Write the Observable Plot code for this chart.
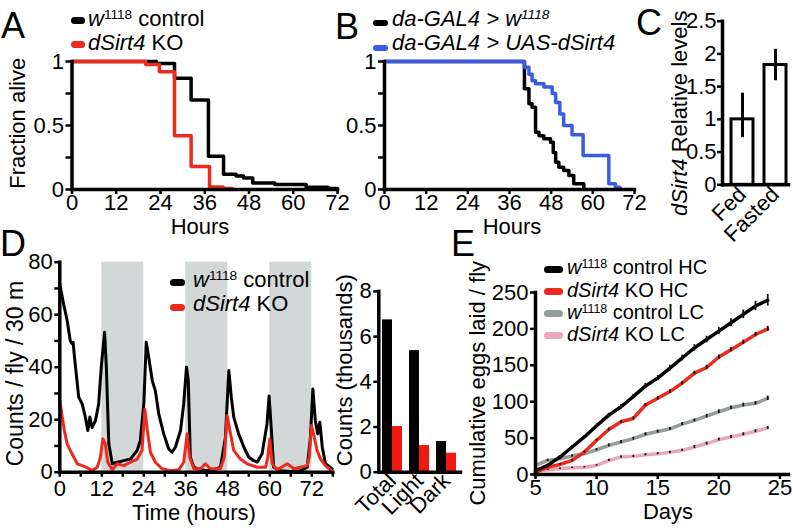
<!DOCTYPE html>
<html><head><meta charset="utf-8">
<script src="https://cdn.jsdelivr.net/npm/d3@7"></script>
<script src="https://cdn.jsdelivr.net/npm/@observablehq/plot@0.6"></script>
<style>
body{margin:0;background:#fff;}
#root{position:relative;width:793px;height:530px;overflow:hidden;background:#fff;font-family:"Liberation Sans",Arial,Helvetica,sans-serif;color:#000;}
#root svg{position:absolute;overflow:visible;background:transparent;}
.t{position:absolute;white-space:nowrap;}
.sw{position:absolute;border-radius:4px;}
sup{font-size:0.62em;line-height:0;vertical-align:0.5em;}
</style></head><body><div id="root"></div><script>
// ---------- DATA ----------
// Panel A (survival under starvation)
const aCtrlHours = [0, 22.9, 27.8, 32.3, 37, 41.1, 44.5, 46.5, 49, 55, 63.5, 69.5, 72];
const aCtrlFrac  = [1, 0.985, 0.87, 0.70, 0.26, 0.12, 0.105, 0.09, 0.05, 0.04, 0.018, 0.008, 0.008];
const aKoHours   = [0, 20, 23.7, 27.8, 32.3, 37.3, 41, 43.4];
const aKoFrac    = [1, 0.976, 0.92, 0.42, 0.18, 0.02, 0.008, 0.008];
const aLegend    = ["<i>w</i><sup>1118</sup> control", "<i>dSirt4</i> KO"];
// Panel B
const bCtrlHours = [0, 40.3, 41.6, 42.5, 43.5, 44.5, 45.9, 47.8, 48.6, 49.3, 50.2, 51.6, 53.1, 54.5, 57.4];
const bCtrlFrac  = [1, 0.787, 0.67, 0.643, 0.448, 0.42, 0.396, 0.37, 0.29, 0.213, 0.174, 0.148, 0.11, 0.045, 0];
const bUasHours  = [0, 40.3, 41.6, 42.5, 43.5, 45.9, 48.3, 49.3, 50.5, 51.6, 54, 57.2, 64.6, 66.5, 67.8];
const bUasFrac   = [1, 0.955, 0.90, 0.85, 0.826, 0.80, 0.75, 0.68, 0.59, 0.50, 0.427, 0.266, 0.045, 0.018, 0];
const bLegend    = ["<i>da-GAL4 &gt; w<sup>1118</sup></i>", "<i>da-GAL4 &gt; UAS-dSirt4</i>"];
// Panel C
const cConds = ["Fed", "Fasted"];
const cMean  = [1.0, 1.83];
const cLo    = [0.72, 1.59];
const cHi    = [1.40, 2.07];
// Panel D (activity)
const dCtrlH = [0,1.1,2.1,3,3.5,3.8,4.2,4.5,5.4,6.4,7.3,8,8.6,9.2,10.2,11.1,11.9,12.8,13.3,14,15,16.4,18.3,20.2,22.1,23,24,24.7,25.4,26.4,27.3,28.3,29.7,31.1,32.1,33,34.5,35.4,36.2,36.7,37.3,38.3,40.2,42.1,44,45.9,47.3,48.3,49,49.7,51.1,52.6,54,55.4,56.4,57.8,59.2,59.8,60.4,61.1,63,65.9,68.8,70.7,71.6,72.3,73,73.7,74.3,75,75.9,77.8];
const dCtrlV = [71.7,64,57.8,50,49,49.5,43.8,40,28.6,26,21,15.9,21,17,19.7,26,41,53.3,40,10.8,3.2,3.8,4.4,5,8.3,12,26,49.5,43.8,35,31,22,14.6,8.9,7.6,9.5,15.9,26,40,35,5.7,1.9,0.9,0.6,1,1.9,13,38.7,28.6,21,14.6,9.5,5.7,4.4,3.8,7,18.4,29,17,1.9,0.6,0.3,0.6,1.9,13,31.7,19.7,14.6,19,9.5,3.2,1.3];
const dKoH = [0,0.7,1.3,2.1,3,4,5,6.4,7.8,9.2,10.7,11.6,12.3,13,13.7,15,16.4,18.3,20.2,22.1,23.5,24.3,25,25.9,27.3,29.2,31.6,34,35.4,36.4,37.1,38.3,40.2,41.6,43,45.9,47,47.8,48.6,49.7,51.6,53.5,56.4,58.8,59.4,60,60.7,62.1,65,66.9,68.8,70.7,71.3,71.9,72.6,73.5,74.5,75.9,77.3];
const dKoV = [27.3,21,15.9,10.8,8.3,5.7,3.2,2.5,1.7,0.6,1.9,5.7,12.7,10.8,3.8,0.9,3.2,2.5,3.8,5,8.3,24,15.9,7.6,3.8,1.3,0.6,0.9,3.8,14.6,5.7,1.3,1.3,3.2,1.3,1.3,5.7,21.6,15.9,8.3,5,3.2,1.9,1.9,5.7,12.7,3.2,0.9,3.2,1.3,1.9,2.5,5.7,17.8,14,8.3,5,2.5,0.9];
const dDarkStart = [12, 36, 60];
const dDarkEnd   = [24, 48, 72];
const dLegend = ["<i>w</i><sup>1118</sup> control", "<i>dSirt4</i> KO"];
const dBarCats = ["Total", "Light", "Dark"];
const dBarCtrl = [6.74, 5.38, 1.36];
const dBarKo   = [2.02, 1.18, 0.84];
// Panel E (eggs)
const eDays   = [5,6,7,8,9,10,11,12,13,14,15,16,17,18,19,20,21,22,23,24];
const eCtrlHC = [5.5,12.5,24,37.8,51.6,66.9,81.6,93.1,107,121.7,132.4,146.2,160,173.9,185.4,196.9,208.5,220,231.5,239.4];
const eKoHC   = [3,10,13.8,19.4,30.9,47,61.8,72.4,77,95.5,104.7,113.9,125.5,139.3,147,161.4,171.5,181.7,192.3,200];
const eCtrlLC = [12.5,19.4,21.7,25.3,28.6,34,40,44.7,49.3,55.3,59,62.7,69.2,74.3,80.2,86.2,91.7,95.5,97.8,104.7];
const eKoLC   = [4,6.5,7.8,9.2,10.1,12.5,19.4,24,24.9,27.2,28.6,30.4,33.2,37.8,42.5,48,51.6,55.3,59.5,64];
const eCtrlHCErr = [1,1.5,1.5,2,2,2.5,2.5,3,3,3.5,3.5,4,4,4.5,4.5,5,5.5,6,6.5,8];
const eKoHCErr   = [1,1,1,1.5,1.5,1.5,2,2,2,2,2.5,2.5,2.5,2.5,3,3,3,3,3,3.5];
const eCtrlLCErr = [1.5,1.5,1.5,1.5,1.5,1.5,2,2,2,2,2,2,2,2,2.5,2.5,2.5,2.5,2.5,3];
const eKoLCErr   = [1,1,1,1,1,1,1.5,1.5,1.5,1.5,1.5,1.5,1.5,2,2,2,2,2,2,2];
const eLegend = ["<i>w</i><sup>1118</sup> control HC", "<i>dSirt4</i> KO HC", "<i>w</i><sup>1118</sup> control LC", "<i>dSirt4</i> KO LC"];
const panelLetters = ["A", "B", "C", "D", "E"];

// ---------- STYLE ----------
const BLACK = "#000000", RED = "#ec2a1e", BLUE = "#3a5ce0", GRAY = "#959d99", PINK = "#e9a7b9", SHADE = "#d2d7d7";
const FONT = "'Liberation Sans', Arial, Helvetica, sans-serif";
const root = document.getElementById("root");
const zip2 = (xs, ys, kx, ky) => xs.map((v, i) => ({[kx]: v, [ky]: ys[i]}));
const baseStyle = {fontFamily: FONT, fontSize: "22px", overflow: "visible", background: "transparent", color: "black"};
function mount(svg, left, top) { svg.style.left = left + "px"; svg.style.top = top + "px"; root.appendChild(svg); }
// HTML text with tight line box (0.75em): baseline sits 0.7215em below the box top
function txt(html, x, base, size, opt = {}) {
  const d = document.createElement("div"); d.className = "t"; d.innerHTML = html;
  d.style.fontSize = size + "px"; d.style.lineHeight = (0.75 * size) + "px";
  d.style.top = (base - 0.7215 * size) + "px";
  if (opt.anchor === "middle") { d.style.width = "300px"; d.style.left = (x - 150) + "px"; d.style.textAlign = "center"; }
  else d.style.left = x + "px";
  root.appendChild(d);
}
function vtxt(html, baseX, cy, size) {
  const W = 300, d = document.createElement("div"); d.className = "t"; d.innerHTML = html;
  d.style.fontSize = size + "px"; d.style.lineHeight = (0.75 * size) + "px"; d.style.width = W + "px"; d.style.textAlign = "center";
  const cx = baseX - 0.3465 * size;
  d.style.left = (cx - W / 2) + "px"; d.style.top = (cy - 0.375 * size) + "px"; d.style.transform = "rotate(-90deg)";
  root.appendChild(d);
}
function swatch(color, x1, x2, cy, h) {
  const s = document.createElement("div"); s.className = "sw";
  s.style.background = color; s.style.left = x1 + "px"; s.style.width = (x2 - x1) + "px";
  s.style.top = (cy - h / 2) + "px"; s.style.height = h + "px"; s.style.borderRadius = (h / 2) + "px";
  root.appendChild(s);
}
const AX = {fontSize: 22, strokeWidth: 2.5, label: null};
const fmt = d => String(d);

// ---------- PANEL A ----------
mount(Plot.plot({
  width: 350, height: 180, marginLeft: 71.5, marginRight: 13, marginTop: 21, marginBottom: 31,
  style: baseStyle,
  x: {domain: [0, 72]}, y: {domain: [0, 1]},
  marks: [
    Plot.line(zip2(aCtrlHours, aCtrlFrac, "h", "f"), {x: "h", y: "f", curve: "step-after", stroke: BLACK, strokeWidth: 3.5}),
    Plot.line(zip2(aKoHours, aKoFrac, "h", "f"), {x: "h", y: "f", curve: "step-after", stroke: RED, strokeWidth: 3.5}),
    Plot.frame({anchor: "left", strokeWidth: 3.5}),
    Plot.frame({anchor: "bottom", strokeWidth: 3.5}),
    Plot.axisX({...AX, ticks: [0, 12, 24, 36, 48, 60, 72], tickSize: 5, tickPadding: 0, tickFormat: fmt}),
    Plot.axisY({...AX, ticks: [0, 0.25, 0.5, 0.75, 1], tickSize: 6, tickPadding: 2, tickFormat: d => (d * 4) % 2 === 0 ? String(d) : ""})
  ]
}), 0, 40);

// ---------- PANEL B ----------
mount(Plot.plot({
  width: 310, height: 180, marginLeft: 44, marginRight: 16, marginTop: 21, marginBottom: 31,
  style: baseStyle,
  x: {domain: [0, 72]}, y: {domain: [0, 1]},
  marks: [
    Plot.line(zip2(bCtrlHours, bCtrlFrac, "h", "f"), {x: "h", y: "f", curve: "step-after", stroke: BLACK, strokeWidth: 3.5}),
    Plot.line(zip2(bUasHours, bUasFrac, "h", "f"), {x: "h", y: "f", curve: "step-after", stroke: BLUE, strokeWidth: 3.5}),
    Plot.frame({anchor: "left", strokeWidth: 3.5}),
    Plot.frame({anchor: "bottom", strokeWidth: 3.5}),
    Plot.axisX({...AX, ticks: [0, 12, 24, 36, 48, 60, 72], tickSize: 5, tickPadding: 0, tickFormat: fmt}),
    Plot.axisY({...AX, ticks: [0, 0.25, 0.5, 0.75, 1], tickSize: 6, tickPadding: 2, tickFormat: d => (d * 4) % 2 === 0 ? String(d) : ""})
  ]
}), 340, 40);

// ---------- PANEL C ----------
const cData = cConds.map((c, i) => ({cond: c, v: cMean[i], lo: cLo[i], hi: cHi[i]}));
mount(Plot.plot({
  width: 113, height: 210, marginLeft: 42, marginRight: 5, marginTop: 20.7, marginBottom: 25.7,
  style: baseStyle,
  x: {domain: cConds, paddingInner: 0.33, paddingOuter: 0.15, align: 0.8},
  y: {domain: [0, 2.5]},
  marks: [
    Plot.barY(cData, {x: "cond", y: "v", fill: "white", stroke: BLACK, strokeWidth: 3}),
    Plot.ruleX(cData, {x: "cond", y1: "lo", y2: "hi", stroke: BLACK, strokeWidth: 3}),
    Plot.frame({anchor: "left", strokeWidth: 3.5}),
    Plot.frame({anchor: "bottom", strokeWidth: 3.5}),
    Plot.axisY({...AX, ticks: [0, 0.5, 1, 1.5, 2, 2.5], tickSize: 5, tickPadding: 1, tickFormat: fmt}),
    Plot.axisX({...AX, tickRotate: -45, tickSize: 0, tickPadding: 6})
  ]
}), 680, 0);

// ---------- PANEL D (line) ----------
const dDark = dDarkStart.map((s, i) => ({s, e: dDarkEnd[i]}));
mount(Plot.plot({
  width: 345, height: 250, marginLeft: 59.3, marginRight: 12.7, marginTop: 11.7, marginBottom: 28.3,
  style: baseStyle,
  x: {domain: [0, 78]}, y: {domain: [0, 80]},
  marks: [
    Plot.rect(dDark, {x1: "s", x2: "e", y1: 0, y2: 80, fill: SHADE}),
    Plot.line(zip2(dCtrlH, dCtrlV, "h", "v"), {x: "h", y: "v", stroke: BLACK, strokeWidth: 3}),
    Plot.line(zip2(dKoH, dKoV, "h", "v"), {x: "h", y: "v", stroke: RED, strokeWidth: 3}),
    Plot.frame({anchor: "left", strokeWidth: 3.5}),
    Plot.frame({anchor: "bottom", strokeWidth: 3.5}),
    Plot.axisX({...AX, ticks: d3.range(0, 79, 6), tickSize: 5, tickPadding: 3, tickFormat: d => d % 12 === 0 ? String(d) : ""}),
    Plot.axisY({...AX, ticks: d3.range(0, 81, 10), tickSize: 5, tickPadding: 2, tickFormat: d => d % 20 === 0 ? String(d) : ""})
  ]
}), 0, 250);

// ---------- PANEL D (bars) ----------
const dBar = dBarCats.map((c, i) => ({cat: c, ctrl: dBarCtrl[i], ko: dBarKo[i]}));
mount(Plot.plot({
  width: 135, height: 230, marginLeft: 48.3, marginRight: 5, marginTop: 20.9, marginBottom: 28.3,
  style: baseStyle,
  x: {domain: dBarCats, paddingInner: 0.265, paddingOuter: 0.14},
  y: {domain: [0, 8]},
  marks: [
    Plot.barY(dBar, {x: "cat", y: "ctrl", fill: BLACK, insetRight: 10}),
    Plot.barY(dBar, {x: "cat", y: "ko", fill: "#f0190f", insetLeft: 10}),
    Plot.frame({anchor: "left", strokeWidth: 3.5}),
    Plot.frame({anchor: "bottom", strokeWidth: 3.5}),
    Plot.axisY({...AX, ticks: [0, 2, 4, 6, 8], tickSize: 5, tickPadding: 2, tickFormat: fmt}),
    Plot.axisX({...AX, tickRotate: -45, tickSize: 0, tickPadding: 5})
  ]
}), 330, 270);

// ---------- PANEL E ----------
const eSeries = [
  {vals: eKoLC, err: eKoLCErr, color: PINK},
  {vals: eCtrlLC, err: eCtrlLCErr, color: GRAY},
  {vals: eKoHC, err: eKoHCErr, color: RED},
  {vals: eCtrlHC, err: eCtrlHCErr, color: BLACK}
];
const eMarks = [];
for (const s of eSeries) {
  const rows = eDays.map((d, i) => ({d, v: s.vals[i], lo: s.vals[i] - s.err[i], hi: s.vals[i] + s.err[i]}));
  eMarks.push(Plot.line(rows, {x: "d", y: "v", stroke: s.color, strokeWidth: 3.5}));
  eMarks.push(Plot.ruleX(rows, {x: "d", y1: "lo", y2: "hi", stroke: "#111", strokeWidth: 1.8}));
}
mount(Plot.plot({
  width: 303, height: 240, marginLeft: 45, marginRight: 5, marginTop: 22, marginBottom: 36,
  style: baseStyle,
  x: {domain: [5, 25.7]}, y: {domain: [0, 250]},
  marks: [
    ...eMarks,
    Plot.frame({anchor: "left", strokeWidth: 3.5}),
    Plot.frame({anchor: "bottom", strokeWidth: 3.5}),
    Plot.axisX({...AX, ticks: [5, 10, 15, 20, 25], tickSize: 5, tickPadding: 0, tickFormat: fmt}),
    Plot.axisY({...AX, ticks: [0, 50, 100, 150, 200, 250], tickSize: 5, tickPadding: 2, tickFormat: fmt})
  ]
}), 490, 270);

// ---------- TEXT: letters, legends, axis titles ----------
const letterPos = [[1, 37.8], [335, 38.8], [636, 34.8], [0, 255.8], [451, 255.8]];
panelLetters.forEach((L, i) => txt(L, letterPos[i][0], letterPos[i][1], 36));

// A legend
[BLACK, RED].forEach((c, i) => swatch(c, 71, 85, [20, 44.5][i], 7));
aLegend.forEach((h, i) => txt(h, 88, [26.4, 51.2][i], 22));
// B legend
[BLACK, BLUE].forEach((c, i) => swatch(c, 373, 388, [23, 47.5][i], 6));
bLegend.forEach((h, i) => txt(h, 392, [26.5, 51.2][i], 22));
// D legend
[BLACK, RED].forEach((c, i) => swatch(c, 170, 185, [282.7, 307.3][i], 7));
dLegend.forEach((h, i) => txt(h, 193, [287.6, 312.3][i], 22));
// E legend
[BLACK, RED, GRAY, PINK].forEach((c, i) => swatch(c, 544, 563, [269, 291.3, 313.6, 335.9][i], 7));
eLegend.forEach((h, i) => txt(h, 567, [274.7, 297, 319.3, 341.6][i], 20));

// axis titles
vtxt("Fraction alive", 25.8, 123, 22);
txt("Hours", 200, 234.5, 22, {anchor: "middle"});
txt("Hours", 512, 234.5, 22, {anchor: "middle"});
vtxt("<i>dSirt4</i> Relative levels", 688, 113.5, 22);
vtxt("Counts / fly / 30 m", 23.5, 374, 23);
txt("Time (hours)", 194, 520.5, 22, {anchor: "middle"});
vtxt("Counts (thousands)", 352.8, 370, 22);
vtxt("Cumulative eggs laid / fly", 485.8, 383, 22);
txt("Days", 668, 519.5, 22, {anchor: "middle"});
</script></body></html>
